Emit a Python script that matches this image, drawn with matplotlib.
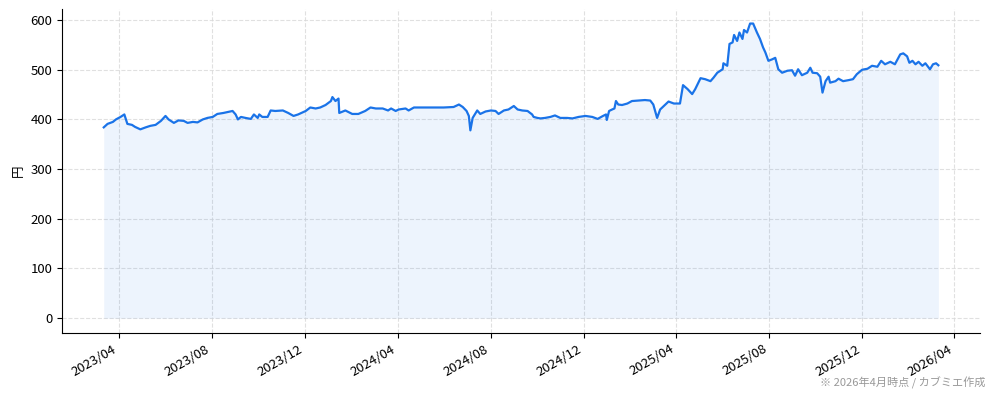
import numpy as np
import pandas as pd
import matplotlib
matplotlib.use("Agg")
import matplotlib.pyplot as plt
import matplotlib.dates as mdates

plt.rcParams['font.family'] = ['Noto Sans CJK JP', 'DejaVu Sans']

# NOTE: price data
dates = [
    "2023-03-12", "2023-03-17", "2023-03-24", "2023-03-28", "2023-04-03", "2023-04-08",
    "2023-04-12", "2023-04-18", "2023-04-22", "2023-04-29", "2023-05-06", "2023-05-12",
    "2023-05-19", "2023-05-26", "2023-06-01", "2023-06-05", "2023-06-12", "2023-06-18",
    "2023-06-25", "2023-06-30", "2023-07-07", "2023-07-13", "2023-07-20", "2023-07-26",
    "2023-08-02", "2023-08-08", "2023-08-16", "2023-08-28", "2023-09-01", "2023-09-04",
    "2023-09-08", "2023-09-14", "2023-09-21", "2023-09-25", "2023-09-30", "2023-10-02",
    "2023-10-06", "2023-10-13", "2023-10-17", "2023-10-23", "2023-11-02", "2023-11-09",
    "2023-11-16", "2023-11-22", "2023-12-02", "2023-12-08", "2023-12-15", "2023-12-21",
    "2023-12-28", "2024-01-04", "2024-01-06", "2024-01-10", "2024-01-14", "2024-01-15",
    "2024-01-23", "2024-02-01", "2024-02-09", "2024-02-18", "2024-02-25", "2024-03-03",
    "2024-03-12", "2024-03-19", "2024-03-23", "2024-03-29", "2024-04-02", "2024-04-11",
    "2024-04-15", "2024-04-22", "2024-05-05", "2024-05-18", "2024-05-31", "2024-06-13",
    "2024-06-20", "2024-06-25", "2024-06-30", "2024-07-03", "2024-07-05", "2024-07-08",
    "2024-07-12", "2024-07-14", "2024-07-18", "2024-07-25", "2024-08-01", "2024-08-07",
    "2024-08-11", "2024-08-18", "2024-08-24", "2024-08-31", "2024-09-05", "2024-09-11",
    "2024-09-18", "2024-09-24", "2024-09-26", "2024-10-01", "2024-10-05", "2024-10-11",
    "2024-10-18", "2024-10-24", "2024-10-31", "2024-11-09", "2024-11-16", "2024-11-24",
    "2024-12-03", "2024-12-12", "2024-12-19", "2024-12-26", "2024-12-30", "2024-12-31",
    "2025-01-03", "2025-01-07", "2025-01-10", "2025-01-12", "2025-01-15", "2025-01-20",
    "2025-01-27", "2025-02-02", "2025-02-10", "2025-02-19", "2025-02-26", "2025-03-02",
    "2025-03-07", "2025-03-11", "2025-03-18", "2025-03-22", "2025-03-29", "2025-04-06",
    "2025-04-10", "2025-04-16", "2025-04-22", "2025-04-26", "2025-05-03", "2025-05-09",
    "2025-05-16", "2025-05-20", "2025-05-25", "2025-06-01", "2025-06-02", "2025-06-07",
    "2025-06-10", "2025-06-14", "2025-06-16", "2025-06-20", "2025-06-23", "2025-06-27",
    "2025-06-29", "2025-07-03", "2025-07-07", "2025-07-11", "2025-07-16", "2025-07-20",
    "2025-07-24", "2025-07-27", "2025-07-31", "2025-08-05", "2025-08-09", "2025-08-13",
    "2025-08-18", "2025-08-25", "2025-08-31", "2025-09-04", "2025-09-08", "2025-09-13",
    "2025-09-20", "2025-09-24", "2025-09-27", "2025-10-03", "2025-10-07", "2025-10-10",
    "2025-10-14", "2025-10-18", "2025-10-20", "2025-10-27", "2025-10-31", "2025-11-06",
    "2025-11-13", "2025-11-19", "2025-11-24", "2025-12-01", "2025-12-08", "2025-12-14",
    "2025-12-21", "2025-12-26", "2025-12-31", "2026-01-07", "2026-01-13", "2026-01-20",
    "2026-01-24", "2026-01-29", "2026-02-01", "2026-02-05", "2026-02-09", "2026-02-13",
    "2026-02-18", "2026-02-22", "2026-02-28", "2026-03-04", "2026-03-08", "2026-03-11",
]
prices = [
    384, 391, 395, 400, 405, 410,
    391, 389, 385, 380, 384, 387,
    389, 397, 407, 400, 393, 398,
    397, 393, 395, 394, 400, 403,
    405, 411, 413, 417, 410, 400,
    405, 403, 401, 410, 403, 410,
    405, 405, 418, 417, 418, 413,
    407, 410, 417, 424, 422, 424,
    429, 437, 445, 437, 442, 413,
    418, 411, 411, 417, 424, 422,
    422, 418, 422, 417, 420, 422,
    418, 424, 424, 424, 424, 425,
    430, 425, 417, 407, 378, 403,
    413, 418, 411, 416, 418, 417,
    411, 418, 420, 427, 420, 418,
    417, 410, 405, 403, 402, 403,
    405, 408, 403, 403, 402, 405,
    407, 405, 401, 407, 410, 399,
    417, 420, 422, 437, 430, 429,
    432, 437, 438, 439, 438, 430,
    403, 420, 430, 436, 432, 432,
    469, 461, 451, 461, 483, 481,
    477, 484, 494, 501, 513, 508,
    552, 555, 570, 558, 575, 562,
    580, 575, 593, 593, 575, 562,
    545, 535, 518, 521, 524, 501,
    494, 498, 499, 488, 501, 489,
    494, 504, 494, 493, 486, 454,
    477, 486, 474, 477, 482, 477,
    479, 481, 491, 500, 502, 508,
    506, 518, 511, 516, 511, 531,
    533, 527, 514, 518, 511, 516,
    508, 513, 501, 511, 513, 509,
]

df = pd.DataFrame({"date": pd.to_datetime(dates), "price": prices})

# NOTE: plot
fig, ax = plt.subplots(figsize=(9.94, 4.01), dpi=100)
fig.subplots_adjust(left=0.0624, right=0.986, bottom=0.17, top=0.978)

line_color = "#1a73e8"
ax.plot(df["date"], df["price"], color=line_color, linewidth=1.6)
ax.fill_between(df["date"], df["price"], 0, color=line_color, alpha=0.08, linewidth=0)

ax.set_ylabel("円", fontsize=9)
ax.grid(True, linestyle="--", color="#d9d9d9", linewidth=0.8, alpha=0.8)
ax.set_axisbelow(True)
ax.spines["top"].set_visible(False)
ax.spines["right"].set_visible(False)

ax.xaxis.set_major_locator(mdates.MonthLocator(bymonth=[4, 8, 12]))
ax.xaxis.set_major_formatter(mdates.DateFormatter("%Y/%m"))
ax.tick_params(labelsize=9.5)
plt.setp(ax.get_xticklabels(), rotation=30, ha="right")

fig.text(0.991, 0.03, "※ 2026年4月時点 / カブミエ作成", ha="right", va="bottom",
         fontsize=8, color="#999999")

plt.savefig("out.png", dpi=100)
